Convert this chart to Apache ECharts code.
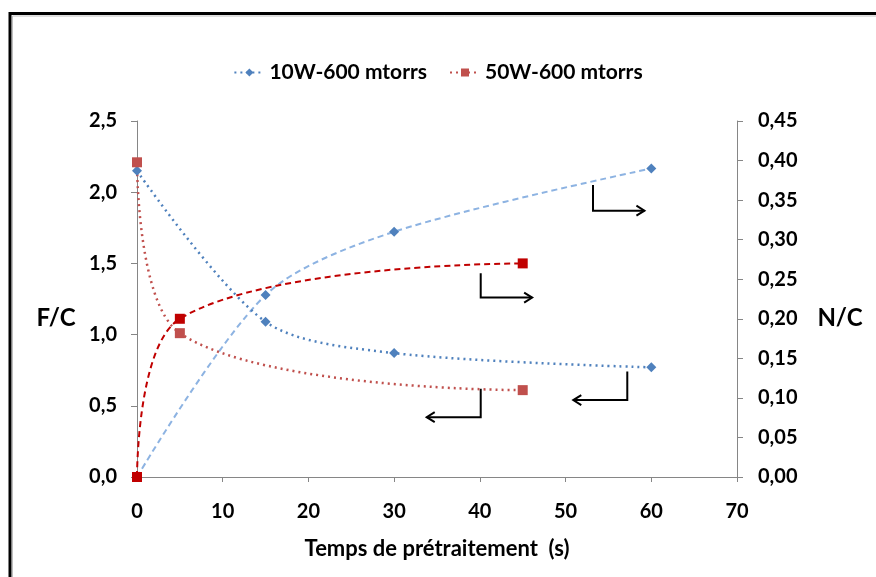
<!DOCTYPE html>
<html>
<head>
<meta charset="utf-8">
<script src="https://cdn.jsdelivr.net/npm/echarts@6/dist/echarts.min.js"></script>
<style>
    html, body { margin: 0; padding: 0; background: #fff; }
    #chart { width: 876px; height: 577px; }
</style>
</head>
<body>
<div id="chart"></div>
<script>
    // temps de prétraitement (s)
    var t10 = [0, 15, 30, 60];
    var t50 = [0, 5, 45];
    // F/C
    var fc10 = [2.15, 1.09, 0.87, 0.77];
    var fc50 = [2.21, 1.01, 0.61];
    // N/C
    var nc10 = [0, 0.23, 0.31, 0.39];
    var nc50 = [0, 0.20, 0.27];

    var legendNames = ['10W-600 mtorrs', '50W-600 mtorrs'];

    // flèches (coordonnées dans le repère x / F/C), dernier point = pointe
    var arrows = [
        [[53.2, 2.05], [53.2, 1.87], [59.2, 1.87]],
        [[40.1, 1.43], [40.1, 1.26], [46.1, 1.26]],
        [[40.1, 0.62], [40.1, 0.42], [33.8, 0.42]],
        [[57.2, 0.74], [57.2, 0.54], [50.9, 0.54]]
    ];

    function pairs(xs, ys) {
        return xs.map(function (x, i) { return [x, ys[i]]; });
    }

    var font = 'Lato, "Liberation Sans", sans-serif';
    var axisGray = '#868686';

    var chart = echarts.init(document.getElementById('chart'));

    var option = {
        animation: false,
        backgroundColor: '#fff',
        textStyle: { fontFamily: font },
        legend: {
            data: legendNames,
            top: 57,
            left: 'center',
            itemWidth: 30,
            itemHeight: 10,
            itemGap: 22,
            textStyle: { fontFamily: font, fontWeight: 'bold', fontSize: 21, color: '#000' }
        },
        grid: { left: 137, right: 139, top: 121, bottom: 100 },
        xAxis: {
            type: 'value',
            min: 0, max: 70, interval: 10,
            name: 'Temps de prétraitement  (s)',
            nameLocation: 'middle',
            nameGap: 61,
            nameTextStyle: { fontFamily: font, fontWeight: 'bold', fontSize: 22, color: '#000' },
            axisLine: { lineStyle: { color: axisGray, width: 1 } },
            axisTick: { show: true, length: 5, lineStyle: { color: axisGray } },
            axisLabel: { margin: 25, fontFamily: font, fontWeight: 'bold', fontSize: 20, color: '#000' },
            splitLine: { show: false }
        },
        yAxis: [
            {
                type: 'value',
                min: 0, max: 2.5, interval: 0.5,
                axisLine: { show: true, lineStyle: { color: axisGray, width: 1 } },
                axisTick: { show: true, length: 6, lineStyle: { color: axisGray } },
                axisLabel: {
                    margin: 20, fontFamily: font, fontWeight: 'bold', fontSize: 20, color: '#000',
                    formatter: function (v) { return v.toFixed(1).replace('.', ','); }
                },
                splitLine: { show: false }
            },
            {
                type: 'value',
                min: 0, max: 0.45, interval: 0.05,
                position: 'right',
                axisLine: { show: true, lineStyle: { color: axisGray, width: 1 } },
                axisTick: { show: true, length: 6, lineStyle: { color: axisGray } },
                axisLabel: {
                    margin: 21, fontFamily: font, fontWeight: 'bold', fontSize: 20, color: '#000',
                    formatter: function (v) { return v.toFixed(2).replace('.', ','); }
                },
                splitLine: { show: false }
            }
        ],
        series: [
            {
                name: '10W-600 mtorrs N/C',
                type: 'line',
                yAxisIndex: 1,
                smooth: 0.3,
                symbol: 'diamond',
                symbolSize: 10,
                itemStyle: { color: '#4F81BD' },
                lineStyle: { color: '#8DB3E2', type: [6, 4], width: 2 },
                data: pairs(t10, nc10)
            },
            {
                name: '50W-600 mtorrs N/C',
                type: 'line',
                yAxisIndex: 1,
                smooth: 0.45,
                symbol: 'rect',
                symbolSize: 10,
                itemStyle: { color: '#C00000' },
                lineStyle: { color: '#C00000', type: [6, 4], width: 2 },
                data: pairs(t50, nc50)
            },
            {
                name: '10W-600 mtorrs',
                type: 'line',
                yAxisIndex: 0,
                smooth: 0.3,
                symbol: 'diamond',
                symbolSize: 10,
                itemStyle: { color: '#4F81BD' },
                lineStyle: { color: '#4F81BD', type: [2, 4], width: 2.5 },
                data: pairs(t10, fc10)
            },
            {
                name: '50W-600 mtorrs',
                type: 'line',
                yAxisIndex: 0,
                smooth: 0.45,
                symbol: 'rect',
                symbolSize: 10,
                itemStyle: { color: '#C0504D' },
                lineStyle: { color: '#C0504D', type: [2, 4], width: 2.5 },
                data: pairs(t50, fc50)
            }
        ]
    };
    chart.setOption(option);

    // cadre, noms des axes y, flèches
    var nameStyle = { fontFamily: font, fontWeight: 'bold', fontSize: 24, fill: '#000', align: 'center', verticalAlign: 'middle' };
    var graphics = [
        { type: 'rect', shape: { x: 10, y: 13.5, width: 900, height: 600 }, style: { fill: null, stroke: '#000', lineWidth: 3 }, silent: true },
        { type: 'rect', shape: { x: 12.5, y: 16, width: 900, height: 600 }, style: { fill: null, stroke: '#BFBFBF', lineWidth: 1 }, silent: true },
        { type: 'text', x: 56, y: 318, style: Object.assign({ text: 'F/C' }, nameStyle), silent: true },
        { type: 'text', x: 840, y: 318, style: Object.assign({ text: 'N/C' }, nameStyle), silent: true }
    ];
    arrows.forEach(function (a) {
        var pts = a.map(function (p) {
            return chart.convertToPixel({ xAxisIndex: 0, yAxisIndex: 0 }, p);
        });
        graphics.push({ type: 'polyline', shape: { points: pts }, style: { stroke: '#000', lineWidth: 2, fill: null }, silent: true });
        var tip = pts[pts.length - 1];
        var dir = tip[0] > pts[pts.length - 2][0] ? -1 : 1;
        graphics.push({
            type: 'polyline',
            shape: { points: [[tip[0] + dir * 8, tip[1] - 5], tip, [tip[0] + dir * 8, tip[1] + 5]] },
            style: { stroke: '#000', lineWidth: 2, fill: null },
            silent: true
        });
    });
    chart.setOption({ graphic: graphics });
</script>
</body>
</html>
